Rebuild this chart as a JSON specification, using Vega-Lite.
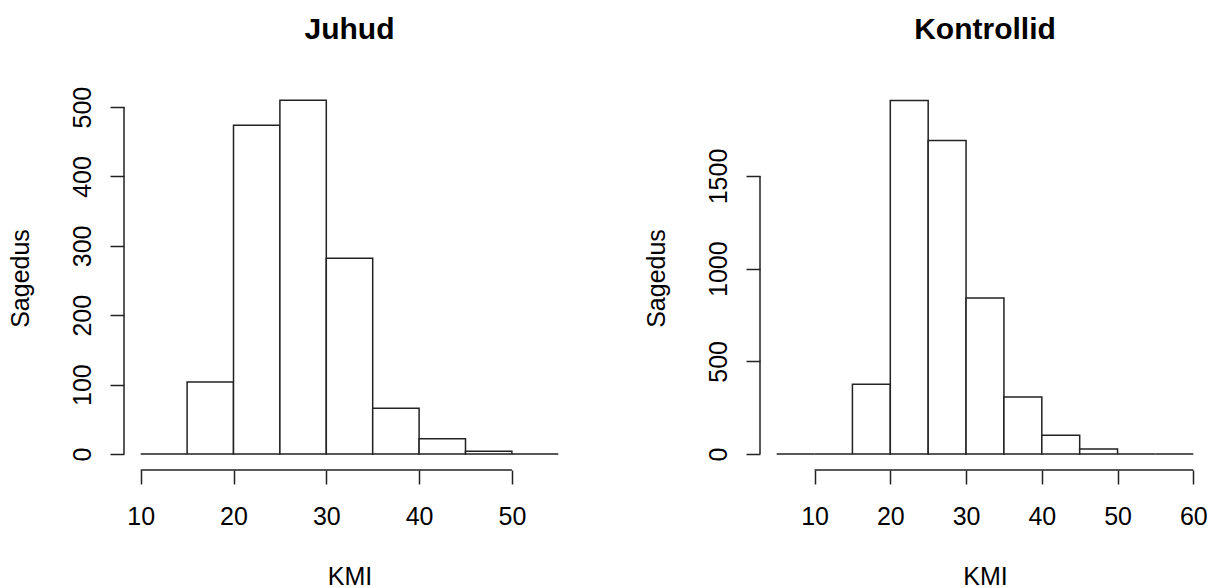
{
  "$schema": "https://vega.github.io/schema/vega-lite/v6.json",
  "padding": {"left": 8, "top": 15, "right": 0, "bottom": 0},
  "background": "white",
  "bounds": "flush",
  "spacing": 185,
  "config": {
    "view": {"stroke": null},
    "font": "Liberation Sans",
    "axis": {
      "domain": false,
      "grid": false,
      "ticks": true,
      "tickSize": 14,
      "tickColor": "#222",
      "tickWidth": 1.5,
      "labelFont": "Liberation Sans",
      "labelFontSize": 25,
      "labelColor": "#000",
      "labelBaseline": "alphabetic",
      "labelFlush": false,
      "labelOverlap": false,
      "format": "d",
      "titleFont": "Liberation Sans",
      "titleFontSize": 25,
      "titleFontWeight": "normal",
      "titleColor": "#000",
      "titleBaseline": "alphabetic"
    },
    "axisX": {"labelPadding": 40, "labelAlign": "center", "titleY": 114},
    "axisY": {"labelPadding": 20, "labelAngle": -90, "labelAlign": "center", "titleAngle": -90, "titleX": -96, "titleY": 192, "titleAlign": "center"},
    "title": {"font": "Liberation Sans", "fontSize": 30, "fontWeight": "bold", "color": "#000", "anchor": "middle", "frame": "group", "baseline": "alphabetic", "offset": 41}
  },
  "datasets": {
    "juhud": [
      {"start": 10, "end": 15, "count": 0},
      {"start": 15, "end": 20, "count": 104},
      {"start": 20, "end": 25, "count": 474},
      {"start": 25, "end": 30, "count": 510},
      {"start": 30, "end": 35, "count": 282},
      {"start": 35, "end": 40, "count": 66},
      {"start": 40, "end": 45, "count": 22},
      {"start": 45, "end": 50, "count": 4},
      {"start": 50, "end": 55, "count": 0}
    ],
    "kontrollid": [
      {"start": 5, "end": 10, "count": 0},
      {"start": 10, "end": 15, "count": 0},
      {"start": 15, "end": 20, "count": 376},
      {"start": 20, "end": 25, "count": 1908},
      {"start": 25, "end": 30, "count": 1692},
      {"start": 30, "end": 35, "count": 842},
      {"start": 35, "end": 40, "count": 308},
      {"start": 40, "end": 45, "count": 101},
      {"start": 45, "end": 50, "count": 27},
      {"start": 50, "end": 55, "count": 0},
      {"start": 55, "end": 60, "count": 0}
    ]
  },
  "hconcat": [
    {
      "width": 451,
      "height": 384,
      "title": {"text": "Juhud"},
      "layer": [
        {
          "data": {"name": "juhud"},
          "mark": {"type": "rect", "fill": "white", "stroke": "#222", "strokeWidth": 1.5},
          "encoding": {
            "x": {"field": "start", "type": "quantitative", "scale": {"domain": [8.2, 56.8], "nice": false, "zero": false}, "axis": {"title": "KMI", "values": [10, 20, 30, 40, 50]}},
            "x2": {"field": "end"},
            "y": {"field": "count", "type": "quantitative", "scale": {"domain": [-23, 530.4], "nice": false, "zero": false}, "axis": {"title": "Sagedus", "values": [0, 100, 200, 300, 400, 500]}},
            "y2": {"datum": 0}
          }
        },
        {
          "data": {"values": [{}]},
          "mark": {"type": "rule", "stroke": "#222", "strokeWidth": 1.5},
          "encoding": {"x": {"datum": 10, "type": "quantitative"}, "x2": {"datum": 50}, "y": {"datum": -23, "type": "quantitative"}}
        },
        {
          "data": {"values": [{}]},
          "mark": {"type": "rule", "stroke": "#222", "strokeWidth": 1.5},
          "encoding": {"x": {"datum": 8.2, "type": "quantitative"}, "y": {"datum": 0, "type": "quantitative"}, "y2": {"datum": 500}}
        }
      ]
    },
    {
      "width": 450,
      "height": 384,
      "title": {"text": "Kontrollid"},
      "layer": [
        {
          "data": {"name": "kontrollid"},
          "mark": {"type": "rect", "fill": "white", "stroke": "#222", "strokeWidth": 1.5},
          "encoding": {
            "x": {"field": "start", "type": "quantitative", "scale": {"domain": [2.8, 62.2], "nice": false, "zero": false}, "axis": {"title": "KMI", "values": [10, 20, 30, 40, 50, 60]}},
            "x2": {"field": "end"},
            "y": {"field": "count", "type": "quantitative", "scale": {"domain": [-86.3, 1985.7], "nice": false, "zero": false}, "axis": {"title": "Sagedus", "values": [0, 500, 1000, 1500]}},
            "y2": {"datum": 0}
          }
        },
        {
          "data": {"values": [{}]},
          "mark": {"type": "rule", "stroke": "#222", "strokeWidth": 1.5},
          "encoding": {"x": {"datum": 10, "type": "quantitative"}, "x2": {"datum": 60}, "y": {"datum": -86.3, "type": "quantitative"}}
        },
        {
          "data": {"values": [{}]},
          "mark": {"type": "rule", "stroke": "#222", "strokeWidth": 1.5},
          "encoding": {"x": {"datum": 2.8, "type": "quantitative"}, "y": {"datum": 0, "type": "quantitative"}, "y2": {"datum": 1500}}
        }
      ]
    }
  ]
}
